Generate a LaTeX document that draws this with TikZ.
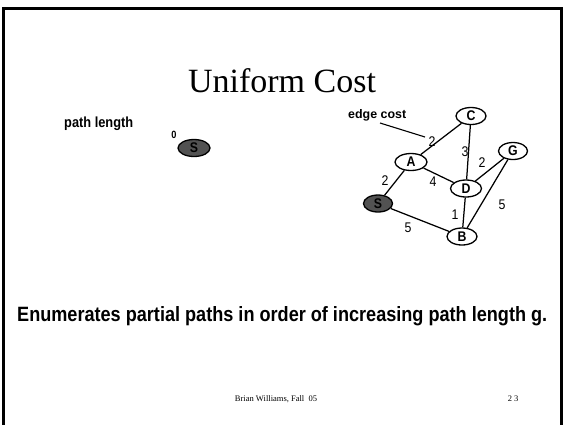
\documentclass[tikz,border=0pt]{standalone}
\usepackage{graphicx}
\usepackage{fontspec}
\setmainfont{Liberation Serif}
\newfontfamily\narrowfont[FakeStretch=0.88]{Liberation Sans}
\newfontfamily\arialfont{Liberation Sans}
\usetikzlibrary{shapes.geometric}
\begin{document}
\begin{tikzpicture}[x=1pt,y=-1pt,
  gnode/.style={ellipse, draw, line width=1.3pt, minimum width=30pt, minimum height=17pt,
    inner sep=0pt, fill=white, font=\narrowfont\bfseries\fontsize{14}{14}\selectfont},
  snode/.style={gnode, fill=black!68},
  edgeline/.style={line width=1.25pt},
  elabel/.style={inner sep=0pt, font=\narrowfont\fontsize{14}{14}\selectfont},
  frameline/.style={line width=3pt}]
\useasboundingbox (0,0) rectangle (564,424);
% frame
\draw[frameline] (3,430) -- (3,8) -- (561,8) -- (561,430);
% title
\node[anchor=base, inner sep=0pt, font=\fontsize{34}{34}\selectfont] (title) at (282,92) {Uniform Cost};
% left part
\node[anchor=base west, inner sep=0pt] (pl) at (64,127.3) {\resizebox{69pt}{10.6pt}{\arialfont\bfseries path length}};
\node[anchor=base, inner sep=0pt, font=\narrowfont\bfseries\fontsize{10.5}{10.5}\selectfont] (zero) at (174,138) {0};
\node[snode, minimum width=32pt, minimum height=17pt] (S0) at (194,148) {S};
% graph nodes
\node[gnode] (C) at (471,116) {C};
\node[gnode, minimum width=29pt] (G) at (513,151) {G};
\node[gnode, minimum width=32pt] (A) at (411,162) {A};
\node[gnode, minimum width=31pt] (D) at (466,188.5) {D};
\node[snode, minimum width=29pt] (S) at (378,203.5) {S};
\node[gnode] (B) at (462,236.5) {B};
% edges
\draw[edgeline] (S) -- (A);
\draw[edgeline] (S) -- (B);
\draw[edgeline] (A) -- (C);
\draw[edgeline] (A) -- (D);
\draw[edgeline] (C) -- (D);
\draw[edgeline] (D) -- (G);
\draw[edgeline] (D) -- (B);
\draw[edgeline] (B) -- (G);
% edge cost label
\node[anchor=base west, inner sep=0pt] (ec) at (348,118.3) {\resizebox{58pt}{9pt}{\arialfont\bfseries edge cost}};
\coordinate (ec1) at (380,123);
\coordinate (ec2) at (425,137);
\draw[line width=1.1pt] (ec1) -- (ec2);
% edge labels
\node[elabel] (l1) at (432,142) {2};
\node[elabel] (l2) at (465,152) {3};
\node[elabel] (l3) at (482,163) {2};
\node[elabel] (l4) at (433,182) {4};
\node[elabel] (l5) at (385,180.5) {2};
\node[elabel] (l6) at (455,215) {1};
\node[elabel] (l7) at (408,228) {5};
\node[elabel] (l8) at (502,205) {5};
% body text
\node[anchor=base west, inner sep=0pt] (body) at (17,321.5) {\resizebox{530pt}{15pt}{\arialfont\bfseries Enumerates partial paths in order of increasing path length g.}};
% footer
\node[anchor=base, inner sep=0pt, font=\fontsize{8.5}{8.5}\selectfont] (foot) at (276,401) {Brian Williams, Fall\ \ 05};
\node[anchor=base, inner sep=0pt, font=\fontsize{8.5}{8.5}\selectfont] (page) at (513,401) {2\hspace{2pt}3};
\end{tikzpicture}
\end{document}
